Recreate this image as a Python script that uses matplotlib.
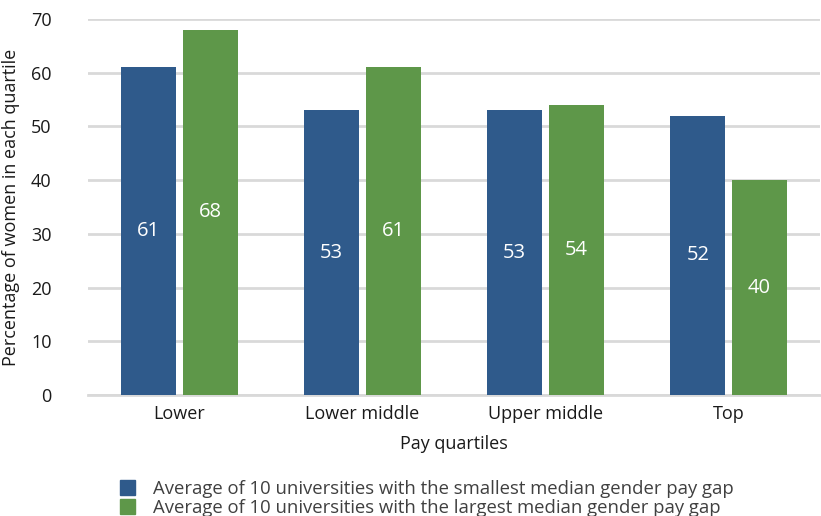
import numpy as np
import matplotlib.pyplot as plt
from matplotlib.patches import Patch

plt.rcParams['font.family'] = ['Open Sans', 'DejaVu Sans']

# Share of women in each pay quartile
quartiles = ['Lower', 'Lower middle', 'Upper middle', 'Top']
smallest_gap = [61, 53, 53, 52]
largest_gap = [68, 61, 54, 40]
series_names = ['Average of 10 universities with the smallest median gender pay gap',
                'Average of 10 universities with the largest median gender pay gap']

blue = '#2F5A8B'
green = '#5E9749'
text_col = '#1a1a1a'

fig = plt.figure(figsize=(8.21, 5.16), dpi=100)
ax = fig.add_axes([0.107, 0.2345, 0.892, 0.7287])

x = np.arange(len(quartiles))
width = 0.30
b1 = ax.bar(x - 0.168, smallest_gap, width, color=blue, zorder=3)
b2 = ax.bar(x + 0.168, largest_gap, width, color=green, zorder=3)

# value labels centred inside each bar
for bars, vals in ((b1, smallest_gap), (b2, largest_gap)):
    for rect, v in zip(bars, vals):
        ax.text(rect.get_x() + rect.get_width() / 2, v / 2, str(v),
                ha='center', va='center', color='white', fontsize=14.5, zorder=4)

ax.set_xlim(-0.5, 3.5)
ax.set_ylim(0, 70)
ax.set_yticks(range(0, 71, 10))
ax.set_xticks(x)
ax.set_xticklabels(quartiles)
ax.tick_params(axis='both', length=0, labelsize=13, colors=text_col)
ax.tick_params(axis='x', pad=7)
ax.tick_params(axis='y', pad=26)

ax.yaxis.grid(True, color='#d9d9d9', linewidth=2, zorder=0)
for side in ['top', 'right', 'left']:
    ax.spines[side].set_visible(False)
ax.spines['bottom'].set_color('#d9d9d9')
ax.spines['bottom'].set_linewidth(2)

ax.set_xlabel('Pay quartiles', fontsize=13, color=text_col, labelpad=9)
ax.set_ylabel('Percentage of women in each quartile', fontsize=13, color=text_col, labelpad=8)

handles = [Patch(color=blue), Patch(color=green)]
leg = fig.legend(handles, series_names, loc='lower left', bbox_to_anchor=(0.137, -0.016),
                 frameon=False, fontsize=13.3, handlelength=0.8, handleheight=0.8,
                 handletextpad=1.0, labelspacing=0.05, borderaxespad=0)
for t in leg.get_texts():
    t.set_color('#404040')

fig.savefig('out.png', dpi=100)
